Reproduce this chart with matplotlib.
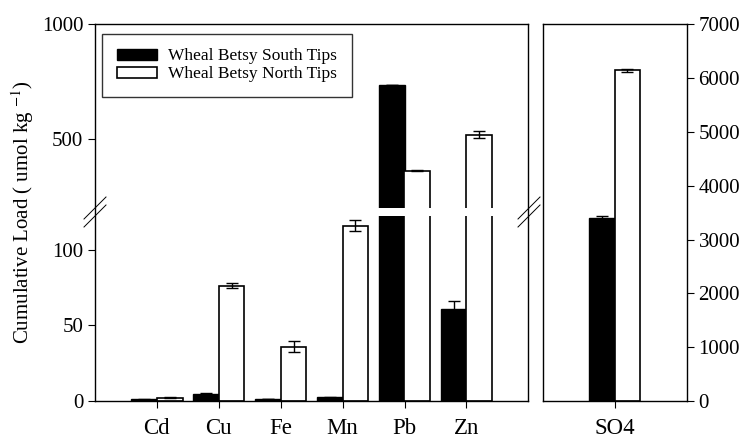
import matplotlib

matplotlib.use("Agg")
import matplotlib.pyplot as plt
import numpy as np
from matplotlib.lines import Line2D

plt.rcParams["font.family"] = ["Liberation Serif", "DejaVu Serif"]
plt.rcParams["mathtext.fontset"] = "stix"

# ---- data -------------------------------------------------------------------
metals = ["Cd", "Cu", "Fe", "Mn", "Pb", "Zn"]
south = [1.0, 4.6, 1.2, 2.6, 736, 60.7]
south_err = [0.2, 0.9, 0.2, 0.3, 0, 5.7]
north = [2.3, 76.4, 36.0, 116.0, 364, 521]
north_err = [0.3, 1.5, 3.7, 3.7, 2.5, 17]

so4_label = ["SO4"]
so4_south = [3391]
so4_south_err = [40]
so4_north = [6141]
so4_north_err = [30]

# ---- broken left axis: 0-122.5 below the break, 200-1000 above --------------
LO_TOP, HI_BOT = 122.5, 200.0
LO_K, GAP_PX, HI_K = 1.51, 7.5, 0.2302
GAP_K = GAP_PX / (HI_BOT - LO_TOP)
LO_PX = LO_TOP * LO_K


def _fwd(y):
    y = np.asarray(y, dtype=float)
    return np.where(y <= LO_TOP, y * LO_K,
                    np.where(y < HI_BOT, LO_PX + (y - LO_TOP) * GAP_K,
                             LO_PX + GAP_PX + (y - HI_BOT) * HI_K))


def _inv(p):
    p = np.asarray(p, dtype=float)
    return np.where(p <= LO_PX, p / LO_K,
                    np.where(p < LO_PX + GAP_PX, LO_TOP + (p - LO_PX) / GAP_K,
                             HI_BOT + (p - LO_PX - GAP_PX) / HI_K))


W, H = 745, 441
fig = plt.figure(figsize=(W / 100, H / 100), dpi=100)
bot, top = (H - 401) / H, (H - 24.2) / H
ax = fig.add_axes([95 / W, bot, (528.3 - 95) / W, top - bot])
ax2 = fig.add_axes([542.5 / W, bot, (686.8 - 542.5) / W, top - bot])

bw = 0.415
err_kw = dict(ecolor="black", elinewidth=1.0, capsize=4.5, capthick=1.0)

x = np.arange(len(metals))
ax.set_yscale("function", functions=(_fwd, _inv))
ax.bar(x - bw / 2, south, bw, color="black", edgecolor="black", linewidth=1.0,
       yerr=south_err, error_kw=err_kw, label="Wheal Betsy South Tips", zorder=2)
ax.bar(x + bw / 2, north, bw, color="white", edgecolor="black", linewidth=1.2,
       yerr=north_err, error_kw=err_kw, label="Wheal Betsy North Tips", zorder=2)
ax.axhspan(LO_TOP, HI_BOT, color="white", zorder=4, lw=0)
ax.set_ylim(0, 1000)
ax.set_xlim(-1, len(metals))
ax.set_yticks([0, 50, 100, 500, 1000])
ax.set_xticks(x)
ax.set_xticklabels(metals)
ax.set_ylabel("Cumulative Load ( umol kg $^{-1}$)", fontsize=15)
ax.tick_params(axis="y", direction="out", length=5, labelsize=15, right=False)
ax.tick_params(axis="x", direction="out", length=5, labelsize=16.5, pad=7)

leg = ax.legend(loc="upper left", bbox_to_anchor=(0.016, 0.975), borderaxespad=0,
                fontsize=12.5, frameon=True, fancybox=False, edgecolor="black",
                handlelength=2.35, handleheight=0.6, labelspacing=0.12,
                borderpad=0.85, handletextpad=0.6)
leg.get_frame().set_linewidth(1.0)

xs = np.arange(len(so4_label))
ax2.bar(xs - bw / 2, so4_south, bw, color="black", edgecolor="black", linewidth=1.0,
        yerr=so4_south_err, error_kw=err_kw, zorder=2)
ax2.bar(xs + bw / 2, so4_north, bw, color="white", edgecolor="black", linewidth=1.2,
        yerr=so4_north_err, error_kw=err_kw, zorder=2)
ax2.set_xlim(-1.166, 1.166)
ax2.set_ylim(0, 7000)
ax2.set_yticks(np.arange(0, 7001, 1000))
ax2.set_xticks(xs)
ax2.set_xticklabels(so4_label)
ax2.yaxis.tick_right()
ax2.tick_params(axis="y", direction="out", length=5, labelsize=15, left=False)
ax2.tick_params(axis="x", direction="out", length=5, labelsize=16.5, pad=7)

for a in (ax, ax2):
    for sp in a.spines.values():
        sp.set_linewidth(1.0)
        sp.set_zorder(5)

# break marks "//" on the left spine and between the panels
for xc in (95, 529):
    for yc in (208, 216):
        yy = H - yc
        fig.add_artist(Line2D([(xc - 11) / W, (xc + 11) / W],
                              [(yy - 11) / H, (yy + 11) / H],
                              color="black", lw=0.7))

fig.savefig("out.png", dpi=100)
